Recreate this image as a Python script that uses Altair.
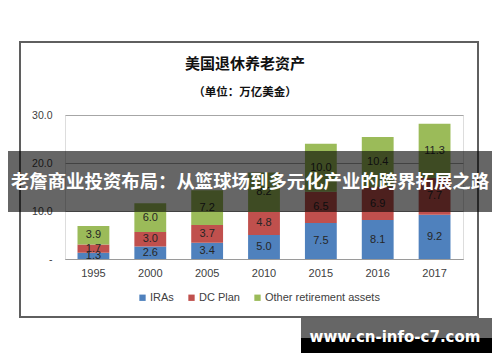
import altair as alt
import pandas as pd

years = ["1995", "2000", "2005", "2010", "2015", "2016", "2017"]
iras = [1.3, 2.6, 3.4, 5.0, 7.5, 8.1, 9.2]
dc_plan = [1.7, 3.0, 3.7, 4.8, 6.5, 6.9, 7.7]
other = [3.9, 6.0, 7.2, 8.2, 10.0, 10.4, 11.3]
series = ["IRAs", "DC Plan", "Other retirement assets"]
colors = ["#4F81BD", "#C0504D", "#9BBB59"]
y_ticks = [0, 5, 10, 15, 20, 25, 30]

title_text = "美国退休养老资产"
subtitle_text = "（单位：万亿美金）"
banner_text = "老詹商业投资布局：从篮球场到多元化产业的跨界拓展之路"
watermark_text = "www.cn-info-c7.com"

rows = []
for i, yr in enumerate(years):
    for k, (name, vals) in enumerate(zip(series, [iras, dc_plan, other])):
        rows.append({"year": yr, "series": name, "value": vals[i], "order": k})
df = pd.DataFrame(rows)

W, H = 398, 144

base = alt.Chart(df).transform_stack(
    stack="value", groupby=["year"], as_=["y0", "y1"],
    sort=[alt.SortField("order", order="ascending")]
)

x_enc = alt.X("year:N", sort=years, title=None,
              scale=alt.Scale(paddingInner=0.44, paddingOuter=0.22),
              axis=alt.Axis(labelAngle=0, labelFontSize=11, labelColor="#404040",
                            labelFont="Liberation Sans", ticks=False, labelPadding=8,
                            domainColor="#9a9a9a", domainWidth=1.2))

bars = base.mark_bar().encode(
    x=x_enc,
    y=alt.Y("y0:Q", title=None, scale=alt.Scale(domain=[0, 30], nice=False),
            axis=alt.Axis(values=y_ticks, domain=False, ticks=False, labelPadding=13,
                          labelFontSize=10.5, labelColor="#404040", labelFont="Liberation Sans",
                          gridColor="#a6a6a6", gridWidth=1,
                          labelExpr="datum.value == 0 ? '-' : format(datum.value, '.1f')")),
    y2="y1:Q",
    color=alt.Color("series:N", scale=alt.Scale(domain=series, range=colors),
                    legend=alt.Legend(title=None, orient="none", legendX=72, legendY=177,
                                      direction="horizontal", symbolType="square",
                                      symbolSize=40, symbolStrokeWidth=0,
                                      labelFontSize=11, labelFont="Liberation Sans",
                                      labelColor="#404040", columnPadding=12,
                                      labelOffset=2, padding=0)),
)

labels = base.transform_calculate(mid="(datum.y0 + datum.y1) / 2").mark_text(
    fontSize=11, color="#262626", font="Liberation Sans", baseline="middle"
).encode(
    x=alt.X("year:N", sort=years),
    y=alt.Y("mid:Q"),
    text=alt.Text("value:Q", format=".1f"),
)

one = pd.DataFrame({"k": [0]})

frame = alt.Chart(one).mark_rect(fill=None, stroke="#5f5f5f", strokeWidth=2).encode(
    x=alt.value(-45), x2=alt.value(413), y=alt.value(-73), y2=alt.value(202))

title = alt.Chart(pd.DataFrame({"t": [title_text]})).mark_text(
    fontSize=15, fontWeight="bold", font="Noto Sans CJK SC", color="#111111"
).encode(x=alt.value(180), y=alt.value(-51), text="t:N")

subtitle = alt.Chart(pd.DataFrame({"t": [subtitle_text]})).mark_text(
    fontSize=11.5, fontWeight="bold", font="Noto Sans CJK SC", color="#111111"
).encode(x=alt.value(180), y=alt.value(-22), text="t:N")

banner = alt.Chart(one).mark_rect(color="black", opacity=0.6).encode(
    x=alt.value(-60), x2=alt.value(440), y=alt.value(36), y2=alt.value(97))

banner_t = alt.Chart(pd.DataFrame({"t": [banner_text]})).mark_text(
    fontSize=18.4, fontWeight="bold", font="Noto Sans CJK SC", color="white", baseline="middle"
).encode(x=alt.value(185), y=alt.value(67), text="t:N")

wm_gray = alt.Chart(one).mark_rect(color="#666666").encode(
    x=alt.value(236), x2=alt.value(427), y=alt.value(203), y2=alt.value(223))
wm_black = alt.Chart(one).mark_rect(color="black").encode(
    x=alt.value(236), x2=alt.value(427), y=alt.value(223), y2=alt.value(240))
wm_t = alt.Chart(pd.DataFrame({"t": [watermark_text]})).mark_text(
    fontSize=15, fontWeight="bold", font="DejaVu Sans", color="white", baseline="middle"
).encode(x=alt.value(330), y=alt.value(222), text="t:N")

chart = alt.layer(
    frame, bars, labels, title, subtitle, banner, banner_t, wm_gray, wm_black, wm_t
).properties(
    width=W, height=H,
    autosize=alt.AutoSizeParams(type="none"),
    padding={"left": 57, "top": 107, "right": 29, "bottom": 94},
).configure_view(stroke=None).configure(background="white")

chart.save("out.html", embed_options={"renderer": "svg", "actions": False})
